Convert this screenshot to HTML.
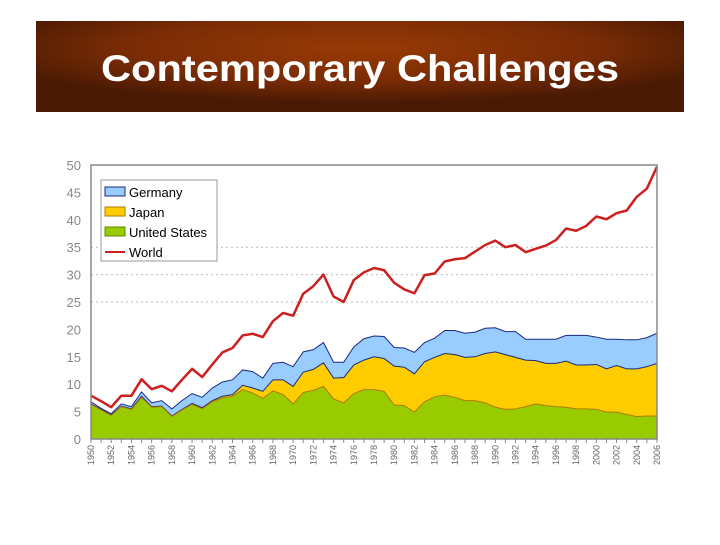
<!DOCTYPE html>
<html><head><meta charset="utf-8"><style>
body{margin:0;background:#fff;width:720px;height:540px;overflow:hidden;font-family:"Liberation Sans",sans-serif}
</style></head><body>
<svg width="720" height="540" xmlns="http://www.w3.org/2000/svg">
<defs><radialGradient id="bg" cx="0.5" cy="0.3" r="0.6">
<stop offset="0" stop-color="#983a05"/><stop offset="0.6" stop-color="#7a2c05"/><stop offset="1" stop-color="#4a1a04"/></radialGradient></defs>
<rect x="36" y="21" width="648" height="91" fill="url(#bg)"/>
<text x="360" y="81" text-anchor="middle" fill="#fff" font-weight="bold" font-size="37" textLength="518" lengthAdjust="spacingAndGlyphs">Contemporary Challenges</text>
<g id="chart"></g>
</svg>
<script>
const years=[];for(let y=1950;y<=2006;y++)years.push(y);
const us=[6.3,5.3,4.3,5.9,5.4,7.6,5.8,5.9,4.1,5.3,6.3,5.5,6.8,7.5,7.8,9,8.4,7.4,8.8,8.1,6.4,8.5,8.9,9.6,7.3,6.6,8.3,9,9,8.7,6.2,6.1,4.9,6.8,7.7,8,7.6,7,7,6.6,5.8,5.4,5.5,5.9,6.4,6.1,5.9,5.8,5.5,5.5,5.4,4.9,4.9,4.5,4.1,4.2,4.2];
const japan=[0.1,0.1,0.1,0.1,0.1,0.2,0.1,0.1,0.1,0.1,0.2,0.2,0.2,0.3,0.3,0.8,0.9,1.3,2.0,2.7,3.2,3.7,3.8,4.3,3.8,4.6,5.2,5.4,6.0,6.0,7.1,7.0,7.0,7.3,7.2,7.6,7.8,7.9,8.0,9.0,10.1,10.0,9.4,8.5,7.9,7.7,7.9,8.4,8.0,8.0,8.2,7.9,8.5,8.3,8.7,9.0,9.6];
const germany=[0.4,0.2,0.2,0.4,0.4,0.8,0.7,1.0,1.3,1.6,1.8,1.9,2.3,2.6,2.7,2.8,3.0,2.4,3.0,3.2,3.6,3.7,3.6,3.7,2.9,2.8,3.3,3.9,3.8,4.0,3.4,3.5,3.9,3.5,3.5,4.2,4.4,4.4,4.5,4.6,4.4,4.2,4.7,3.8,3.9,4.4,4.4,4.7,5.4,5.4,5.0,5.4,4.8,5.3,5.3,5.3,5.5];
const world=[7.9,6.9,5.8,7.9,7.9,10.9,9.1,9.7,8.7,10.8,12.8,11.3,13.6,15.8,16.6,18.9,19.2,18.6,21.5,23,22.5,26.5,27.9,30,26,25,29,30.4,31.2,30.8,28.5,27.3,26.6,29.9,30.2,32.4,32.8,33,34.2,35.4,36.2,35,35.4,34.1,34.7,35.3,36.3,38.4,38,38.9,40.6,40.1,41.2,41.7,44.2,45.7,49.7];
const yTicks=[0,5,10,15,20,25,30,35,40,45,50];
const gridVals=[25,30,35];
const L=91,R=657,T=165,B=439;
const X=y=>L+(y-1950)*(R-L)/(2006-1950);
const Y=v=>B-v*(B-T)/50;
const NS='http://www.w3.org/2000/svg';
const g=document.getElementById('chart');
function mk(t,a){const e=document.createElementNS(NS,t);for(const k in a)e.setAttribute(k,a[k]);g.appendChild(e);return e;}
gridVals.forEach(v=>{const l=mk('line',{x1:L,x2:R,y1:Y(v),y2:Y(v),stroke:'#bbb','stroke-dasharray':'2,3'});

});
const s1=us, s2=us.map((v,i)=>v+japan[i]), s3=s2.map((v,i)=>v+germany[i]);
function area(top,bot,fill,stroke,name){let d='M'+years.map((y,i)=>X(y)+','+Y(top[i])).join('L');
for(let i=years.length-1;i>=0;i--)d+='L'+X(years[i])+','+Y(bot?bot[i]:0);
const p=mk('path',{d:d+'Z',fill:fill});


const ln=mk('polyline',{points:years.map((y,i)=>X(y)+','+Y(top[i])).join(' '),fill:'none',stroke:stroke,'stroke-width':1});

}
area(s3,s2,'#99ccff','#1a2a80','area-germany');
area(s2,s1,'#ffcc00','#1a2a80','area-japan');
area(s1,null,'#99cc00','#b07a00','area-united-states');
const wl=mk('polyline',{points:years.map((y,i)=>X(y)+','+Y(world[i])).join(' '),fill:'none',stroke:'#cc1f1f','stroke-width':2.5,'stroke-linejoin':'round'});


const fr=mk('rect',{x:L,y:T,width:R-L,height:B-T,fill:'none',stroke:'#888','stroke-width':1.5});


yTicks.forEach(v=>{const t=mk('text',{x:81,y:Y(v)+5,'text-anchor':'end','font-size':13,fill:'#888'});t.textContent=v;

});
years.forEach(y=>{mk('line',{x1:X(y),x2:X(y),y1:B,y2:B+4,stroke:'#888'});
if((y-1950)%2===0){const t=mk('text',{x:0,y:0,'text-anchor':'end','font-size':9,fill:'#666',transform:`translate(${X(y)+3},${B+6}) rotate(-90)`});t.textContent=y;

}});
const lg=mk('rect',{x:101,y:180,width:116,height:81,fill:'#fff',stroke:'#999'});


[['Germany','#99ccff','#1a2a80'],['Japan','#ffcc00','#b07a00'],['United States','#99cc00','#5a8a00'],['World',null,'#cc1f1f']].forEach((e,i)=>{
const cy=192+i*20;
if(e[1])mk('rect',{x:105,y:cy-5,width:20,height:9,fill:e[1],stroke:e[2]});else mk('line',{x1:105,x2:125,y1:cy,y2:cy,stroke:e[2],'stroke-width':2});
const t=mk('text',{x:129,y:cy+5,'font-size':13,fill:'#000'});t.textContent=e[0];

});
</script>
</body></html>
